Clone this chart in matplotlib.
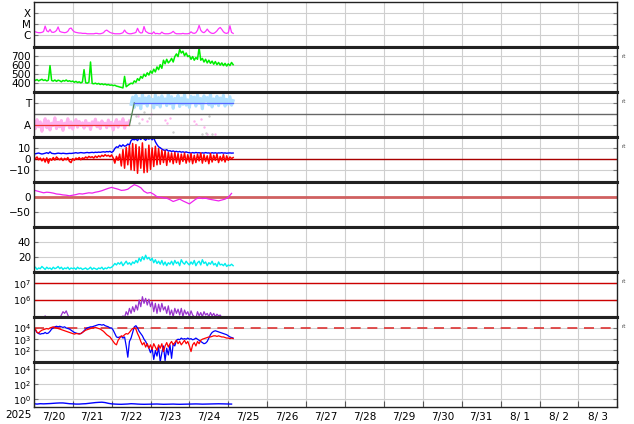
import numpy as np
import matplotlib
matplotlib.use("Agg")
import matplotlib.pyplot as plt

# ---------------- data (hours since 2025-07-20 00:00) ----------------
date_labels = ["7/20", "7/21", "7/22", "7/23", "7/24", "7/25", "7/26", "7/27",
               "7/28", "7/29", "7/30", "7/31", "8/ 1", "8/ 2", "8/ 3"]
year_label = "2025"

# GOES X-ray flux, units of 1e-6 W/m^2, hourly
xray_c = [2.0, 1.8, 1.6, 1.5, 1.5, 1.6, 1.9, 6.0, 2.2, 1.8, 3.0, 1.7, 1.6, 1.8, 2.4, 5.0, 2.0, 1.7, 1.6, 1.5, 1.6, 2.0, 3.5, 4.0,
          2.5, 1.8, 1.6, 1.5, 1.4, 1.4, 1.3, 1.3, 1.3, 1.2, 1.2, 1.2, 1.2, 1.2, 1.3, 1.3, 1.2, 1.2, 1.3, 1.5, 2.2, 2.6, 2.0, 1.6,
          1.4, 1.3, 1.2, 1.2, 1.2, 1.2, 1.3, 1.5, 2.6, 1.6, 1.3, 1.2, 1.2, 1.3, 1.4, 1.6, 3.8, 1.8, 1.4, 1.5, 5.5, 2.0, 1.6, 1.3,
          1.3, 1.2, 1.8, 1.2, 1.3, 1.2, 1.2, 1.7, 1.3, 1.2, 1.2, 1.2, 1.3, 1.5, 2.0, 1.4, 1.2, 1.2, 1.2, 1.2, 1.3, 1.2, 1.2, 1.2,
          1.3, 1.8, 1.4, 1.3, 1.5, 2.5, 7.0, 2.5, 1.7, 1.5, 2.0, 3.2, 2.0, 1.5, 1.3, 1.3, 1.6, 2.2, 3.5, 4.5, 3.0, 1.8, 1.4, 1.3,
          1.5, 6.5, 1.6, 1.3]

# Solar wind speed km/s, hourly
speed = [440, 425, 435, 420, 430, 438, 425, 432, 420, 428, 590, 425, 418, 430, 415, 428, 422, 410, 425, 418, 430, 415, 422, 412,
         418, 405, 415, 402, 410, 398, 408, 545, 400, 395, 405, 630, 392, 388, 395, 385, 392, 380, 388, 378, 385, 375, 380, 372,
         375, 368, 372, 362, 358, 352, 348, 342, 470, 355, 370, 382, 395, 388, 420, 405, 445, 425, 470, 450, 495, 470, 510, 485,
         530, 505, 550, 520, 575, 545, 600, 560, 650, 610, 660, 620, 640, 670, 630, 690, 720, 690, 770, 730, 750, 700, 730, 690,
         700, 660, 690, 650, 680, 660, 790, 650, 670, 630, 660, 620, 650, 615, 640, 605, 635, 600, 625, 595, 620, 590, 615, 585,
         610, 590, 625, 600]

# IMF sector (0.25 = Away, 0.75 = Toward), hourly
away_pts = [0.30, 0.18, 0.38, 0.22, 0.33, 0.12, 0.28, 0.40, 0.20, 0.35, 0.15, 0.30, 0.25, 0.42, 0.18, 0.32, 0.22, 0.36, 0.14, 0.30, 0.26, 0.40, 0.20, 0.33,
            0.17, 0.29, 0.38, 0.21, 0.34, 0.25, 0.31, 0.19, 0.36, 0.24, 0.30, 0.16, 0.33, 0.27, 0.39, 0.22, 0.31, 0.18, 0.35, 0.26, 0.30, 0.20, 0.37, 0.24,
            0.32, 0.15, 0.29, 0.38, 0.21, 0.33, 0.26, 0.40, 0.19, 0.31, 0.28, 0.35]
toward_start = 60
toward_pts = [0.72, 0.88, 0.65, 0.92, 0.70, 0.85, 0.62, 0.95, 0.74, 0.86, 0.68, 0.90, 0.77, 0.83, 0.64, 0.93, 0.71, 0.87, 0.66, 0.91, 0.75, 0.84, 0.69, 0.96,
              0.73, 0.89, 0.63, 0.85, 0.78, 0.92, 0.67, 0.86, 0.72, 0.94, 0.70, 0.82, 0.65, 0.90, 0.76, 0.88, 0.68, 0.93, 0.74, 0.85, 0.62, 0.91, 0.79, 0.87,
              0.71, 0.95, 0.66, 0.84, 0.73, 0.90, 0.69, 0.86, 0.75, 0.92, 0.68, 0.83, 0.72, 0.89, 0.70, 0.80]
stray_away_h = [64, 67, 70, 72, 81, 82, 84, 99, 100, 103, 105, 107, 112]
stray_away_v = [0.45, 0.40, 0.35, 0.50, 0.38, 0.30, 0.42, 0.35, 0.28, 0.40, 0.22, 0.05, 0.05]
stray_gray_h = [60, 63, 65, 68, 71, 86, 104, 106, 108, 110]
stray_gray_v = [0.50, 0.45, 0.30, 0.55, 0.42, 0.10, 0.05, 0.08, 0.45, 0.06]
sector_switch_h = [59, 62]
sector_end_h = 123

# IMF Bt and Bz (nT), hourly
bt = [5.0, 4.8, 5.2, 5.5, 5.0, 4.6, 4.9, 5.3, 5.8, 5.1, 6.5, 5.2, 5.0, 4.8, 5.1, 5.4, 5.2, 5.0, 5.3, 5.1, 4.9, 5.0, 5.2, 5.1,
      5.3, 5.5, 5.8, 5.4, 5.6, 5.9, 5.7, 5.5, 5.8, 6.0, 5.7, 5.9, 6.1, 5.8, 6.2, 6.0, 6.3, 6.1, 6.4, 6.6, 6.3, 6.8, 6.5, 7.0,
      6.0, 7.0, 9.5, 11.0, 10.5, 12.5, 11.2, 12.8, 11.5, 12.0, 13.5, 12.5, 16.5, 17.8, 17.2, 18.0, 16.5, 18.8, 17.5, 19.2, 18.0, 16.8, 18.5, 17.8,
      18.8, 17.2, 19.0, 15.5, 13.0, 11.0, 10.2, 9.0, 8.2, 7.8, 8.5, 7.2, 7.6, 6.8, 7.4, 6.6, 7.0, 6.4, 6.9, 6.2, 6.6, 6.0, 6.5, 5.9,
      5.8, 5.4, 5.9, 5.5, 6.0, 5.6, 5.8, 5.3, 5.7, 5.4, 5.9, 5.5, 5.6, 5.2, 5.8, 5.4, 5.7, 5.3, 5.6, 5.5, 5.8, 5.4, 5.6, 5.3,
      5.5, 5.6, 5.4, 5.5]
bz = [1.5, 0.5, 2.0, -0.5, 1.0, -1.5, 0.8, -2.5, 1.2, -3.5, 0.5, -1.0, 1.5, -0.8, 2.0, 0.5, -0.5, 1.0, -1.2, 0.8, -0.5, 1.5, -2.0, -3.0,
      0.5, -1.0, 1.0, 0.0, 1.5, -0.5, 1.2, 0.5, 2.0, 1.0, 2.5, 1.5, 2.2, 1.0, 2.8, 1.5, 3.0, 2.0, 3.5, 2.5, 4.0, 2.8, 3.5, 2.2,
      3.8, 1.0, -3.5, 2.5, -1.0, 4.5, -6.0, 8.5, -8.0, 10.5, -5.0, 12.0, -9.5, 14.0, -10.0, 13.0, -12.5, 11.0, -8.0, 14.5, -12.0, 9.0, -11.5, 12.5,
      -9.0, 10.0, -6.5, 11.5, -5.0, 9.5, -4.5, 8.0, -3.0, 7.5, -5.5, 6.0, -2.5, 5.5, -4.0, 6.0, -3.0, 5.0, -4.5, 4.5, -2.0, 5.5, -3.5, 4.0,
      -2.5, 5.0, -4.0, 3.5, -3.0, 4.5, -1.5, 5.5, -3.5, 4.0, -2.0, 3.0, -4.0, 5.0, -2.5, 3.5, -1.0, 4.5, -3.0, 2.5, -1.5, 4.0, -2.5, 3.0,
      -1.0, 2.0, 0.5, 1.5]

# Dst (nT), every 2 hours
dst = [22, 19, 16, 13, 15, 14, 12, 9, 8, 6, 5, 3, 5, 7, 10, 9, 11, 13, 12, 15, 17, 20, 24, 28,
       31, 28, 25, 21, 22, 25, 33, 40, 36, 30, 18, 12, 14, 8, 0, -2, -4, -5, -10, -16, -12, -8,
       -14, -19, -24, -16, -8, -3, -6, -5, -8, -10, -12, -14, -11, -8, -2, 11]

# Solar wind density, hourly
density = [4, 6, 3, 5, 4, 7, 5, 3, 6, 4, 5, 3, 6, 4, 5, 7, 4, 6, 3, 5, 4, 6, 3, 5,
           4, 5, 3, 6, 4, 5, 3, 4, 5, 3, 4, 6, 3, 5, 4, 3, 5, 4, 6, 3, 5, 4, 6, 5,
           6, 8, 11, 9, 12, 10, 13, 8, 11, 14, 10, 12, 9, 13, 11, 15, 12, 18, 14, 20, 16, 22, 17, 19,
           15, 18, 12, 16, 11, 14, 10, 15, 9, 13, 8, 12, 10, 14, 9, 15, 11, 13, 8, 16, 12, 10, 14, 11,
           9, 13, 10, 15, 8, 12, 14, 9, 16, 11, 13, 8, 12, 10, 14, 9, 11, 7, 13, 9, 10, 8, 11, 7,
           9, 8, 10, 8]

# Proton flux, log10, hourly
proton_log = [4.6, 4.7, 4.6, 4.8, 4.7, 4.9, 4.9, 5.05, 4.9, 4.8, 4.7, 4.8, 4.7, 4.6, 4.8, 4.7, 4.9, 5.1, 5.3, 5.2, 5.35, 5.1, 4.9, 4.8,
              4.7, 4.6, 4.5, 4.6, 4.5, 4.4, 4.5, 4.4, 4.5, 4.4, 4.3, 4.4, 4.3, 4.4, 4.3, 4.4, 4.5, 4.4, 4.5, 4.6, 4.5, 4.6, 4.7, 4.6,
              4.7, 4.8, 4.7, 4.8, 4.9, 4.8, 4.9, 5.05, 4.95, 5.3, 5.1, 5.5, 5.2, 5.6, 5.3, 5.7, 5.4, 6.0, 5.6, 6.2, 5.8, 6.1, 5.7, 6.05,
              5.6, 5.9, 5.3, 5.8, 5.2, 5.75, 5.3, 5.8, 5.4, 5.6, 5.2, 5.65, 5.1, 5.4, 5.0, 5.5, 5.2, 5.45, 5.1, 5.5, 5.0, 5.4, 5.15, 5.3,
              5.0, 5.35, 5.1, 5.0, 4.9, 5.3, 5.05, 5.25, 5.0, 5.3, 5.1, 5.2, 5.0, 5.25, 5.05, 5.2, 5.0, 5.15, 5.05, 5.1, 4.95, 5.0, 4.9, 4.8]

# Electron flux, log10, hourly (two channels)
elec_blue_log = [4.0, 3.8, 3.6, 3.5, 3.45, 3.5, 3.5, 3.6, 3.5, 3.55, 3.7, 3.9, 4.0, 4.1, 4.15, 4.1, 4.15, 4.1, 4.05, 4.1, 4.0, 3.95, 3.9, 3.8,
                 3.7, 3.6, 3.55, 3.5, 3.5, 3.5, 3.6, 3.75, 3.9, 4.0, 4.05, 4.1, 4.1, 4.15, 4.2, 4.25, 4.3, 4.3, 4.25, 4.3, 4.2, 4.15, 4.1, 4.0,
                 4.0, 3.8, 3.5, 3.2, 3.15, 3.2, 3.25, 3.1, 3.2, 2.4, 1.4, 2.8, 3.1, 3.6, 4.1, 4.2, 4.0, 3.7, 3.5, 3.3, 3.0, 2.8, 2.5, 2.2,
                 1.8, 2.2, 1.2, 2.0, 1.5, 2.3, 1.0, 1.8, 2.4, 1.1, 2.2, 1.6, 2.5, 1.3, 2.6, 2.4, 2.9, 3.0, 2.95, 3.1, 3.0, 3.05, 3.0, 3.1,
                 3.0, 3.05, 2.95, 3.0, 3.1, 3.0, 2.9, 2.8, 2.7, 2.6, 2.65, 2.8, 3.1, 3.4, 3.6, 3.7, 3.75, 3.7, 3.65, 3.6, 3.55, 3.5, 3.45, 3.4,
                 3.3, 3.2, 3.15, 3.1]
elec_red_log = [4.0, 3.9, 3.6, 3.55, 3.7, 3.8, 3.85, 3.9, 3.95, 3.9, 4.0, 4.05, 4.1, 4.05, 4.0, 3.95, 3.9, 3.85, 3.8, 3.75, 3.7, 3.65, 3.6, 3.55,
                3.5, 3.45, 3.5, 3.5, 3.45, 3.5, 3.6, 3.7, 3.8, 3.85, 3.9, 3.95, 4.0, 4.0, 4.05, 4.0, 3.95, 3.9, 3.8, 3.7, 3.55, 3.4, 3.3, 3.2,
                3.0, 2.8, 2.6, 2.5, 2.9, 3.1, 3.3, 3.25, 3.4, 3.5, 3.45, 3.6, 3.8, 3.95, 4.0, 3.9, 3.5, 3.2, 2.8, 2.5, 2.7, 2.3, 2.6, 2.2,
                2.5, 2.1, 2.6, 2.3, 2.0, 2.5, 2.2, 2.6, 1.9, 2.4, 2.7, 2.3, 2.6, 2.8, 2.5, 2.7, 2.9, 2.6, 2.8, 2.5, 2.7, 2.9, 2.6, 2.8,
                2.4, 1.9, 2.5, 2.7, 2.4, 2.8, 2.6, 2.9, 3.0, 3.05, 3.1, 3.15, 3.2, 3.2, 3.25, 3.3, 3.3, 3.25, 3.3, 3.25, 3.2, 3.2, 3.15, 3.1,
                3.1, 3.05, 3.1, 3.05]

# Bottom panel flux, log10, every 2 hours
low_flux_log = [-0.6, -0.65, -0.6, -0.62, -0.6, -0.58, -0.55, -0.52, -0.5, -0.5, -0.55, -0.6, -0.62, -0.65, -0.65, -0.62,
                -0.6, -0.55, -0.5, -0.45, -0.42, -0.4, -0.45, -0.55, -0.62, -0.65, -0.67, -0.68, -0.66, -0.64, -0.6, -0.62,
                -0.65, -0.67, -0.68, -0.67, -0.66, -0.65, -0.64, -0.66, -0.68, -0.67, -0.66, -0.65, -0.67, -0.68, -0.67, -0.66,
                -0.65, -0.64, -0.63, -0.64, -0.66, -0.65, -0.64, -0.63, -0.62, -0.61, -0.62, -0.63, -0.64, -0.65]


def hours(vals, step=1.0, start=0.0):
    return start + np.arange(len(vals)) * step


# ---------------- layout ----------------
W, H = 634, 424
fig = plt.figure(figsize=(W / 100, H / 100), dpi=100)
left = 33.8 / W
width = (617.3 - 33.8) / W
ph = 45.0
top0 = 1.7
FS = 7.5
FS_LOG = 6.8
GRID = "#cfcfcf"

axes = []
for i in range(9):
    top = top0 + ph * i
    ax = fig.add_axes([left, 1 - (top + ph) / H, width, ph / H])
    axes.append(ax)

for i, ax in enumerate(axes):
    ax.set_xlim(0, 360)
    ax.set_xticks(np.arange(0, 361, 24))
    ax.grid(True, which="major", color=GRID, lw=0.8)
    ax.set_axisbelow(True)
    for s in ("left", "right"):
        ax.spines[s].set_linewidth(1.0)
        ax.spines[s].set_color("#222222")
    ax.spines["top"].set_linewidth(1.0 if i == 0 else 2.2)
    ax.spines["bottom"].set_linewidth(1.0 if i == 8 else 2.2)
    ax.spines["top"].set_color("#222222")
    ax.spines["bottom"].set_color("#222222")
    ax.tick_params(axis="y", which="major", direction="in", length=3, left=True, right=True,
                   labelsize=FS, pad=2, color="#777777", labelcolor="black")
    ax.tick_params(axis="y", which="minor", left=False, right=False)
    if i < 8:
        ax.tick_params(axis="x", which="both", bottom=False, top=False, labelbottom=False)

# Panel 1: X-ray
ax = axes[0]
ax.set_yscale("log")
ax.plot(hours(xray_c), np.array(xray_c) * 1e-6, color="#ff33ff", lw=0.9)
ax.set_ylim(10 ** -7.1, 10 ** -3.0)
ax.set_yticks([1e-4, 1e-5, 1e-6])
ax.set_yticklabels(["X", "M", "C"])
ax.yaxis.set_minor_locator(matplotlib.ticker.NullLocator())

# Panel 2: speed
ax = axes[1]
ax.plot(hours(speed), speed, color="#00ee00", lw=1.1)
ax.set_ylim(300, 800)
ax.set_yticks([400, 500, 600, 700])

# Panel 3: sector
ax = axes[2]
ax.set_ylim(0, 1)
ax.set_yticks([0.25, 0.75])
ax.set_yticklabels(["A", "T"])
ax.axhline(0.5, color="#666666", lw=1.0)
ax.plot(hours(away_pts), away_pts, color="#ffb0ee", lw=2.2)
ax.plot(hours(toward_pts, start=toward_start), toward_pts, color="#b0e0ff", lw=2.2)
ax.scatter(stray_away_h, stray_away_v, s=3, color="#ffb0ee", lw=0)
ax.scatter(stray_gray_h, stray_gray_v, s=3, color="#cccccc", lw=0)
ax.plot([0, sector_switch_h[0]], [0.25, 0.25], color="#ee3333", lw=0.9)
ax.plot(sector_switch_h, [0.25, 0.75], color="#558855", lw=0.9)
ax.plot([sector_switch_h[1], sector_end_h], [0.75, 0.75], color="#5566ff", lw=0.9)

# Panel 4: IMF
ax = axes[3]
ax.set_ylim(-20, 20)
ax.set_yticks([-10, 0, 10])
ax.set_yticklabels(["\u221210", "0", "10"])
ax.axhline(0, color="#aa0000", lw=1.0)
ax.plot(hours(bt), bt, color="#0000ff", lw=1.0)
ax.plot(hours(bz), bz, color="#ff0000", lw=1.1)

# Panel 5: Dst
ax = axes[4]
ax.set_ylim(-100, 50)
ax.set_yticks([-50, 0])
ax.set_yticklabels(["\u221250", "0"])
ax.axhline(0, color="#d06060", lw=2.0)
ax.plot(hours(dst, 2.0), dst, color="#ee22ee", lw=0.9)

# Panel 6: density
ax = axes[5]
ax.set_ylim(0, 60)
ax.set_yticks([20, 40])
ax.plot(hours(density), density, color="#00eeee", lw=1.0)

# Panel 7: protons
ax = axes[6]
ax.set_yscale("log")
ax.set_ylim(1e5, 10 ** 7.7)
ax.set_yticks([1e6, 1e7])
ax.yaxis.set_minor_locator(matplotlib.ticker.NullLocator())
ax.axhline(1e6, color="#cc0000", lw=1.0)
ax.axhline(1e7, color="#cc0000", lw=1.0)
ax.plot(hours(proton_log), 10 ** np.array(proton_log), color="#9933cc", lw=0.9)

# Panel 8: electrons
ax = axes[7]
ax.set_yscale("log")
ax.set_ylim(1e1, 1e5)
ax.set_yticks([1e2, 1e3, 1e4])
ax.yaxis.set_minor_locator(matplotlib.ticker.NullLocator())
ax.axhline(1e4, color="#dd3333", lw=1.2, dashes=(6, 4))
ax.plot(hours(elec_blue_log), 10 ** np.array(elec_blue_log), color="#0000ff", lw=0.9)
ax.plot(hours(elec_red_log), 10 ** np.array(elec_red_log), color="#ff0000", lw=0.9)

# Panel 9
ax = axes[8]
ax.set_yscale("log")
ax.set_ylim(1e-1, 1e5)
ax.set_yticks([1e0, 1e2, 1e4])
ax.yaxis.set_minor_locator(matplotlib.ticker.NullLocator())
ax.plot(hours(low_flux_log, 2.0), 10 ** np.array(low_flux_log), color="#0000ff", lw=1.0)
ax.tick_params(axis="x", which="major", direction="in", length=4, bottom=True, top=False,
               labelbottom=False, color="#555555")
ax.set_xticks(np.arange(12, 360, 24), minor=True)
ax.set_xticklabels(date_labels, minor=True)
ax.tick_params(axis="x", which="minor", length=0, labelsize=FS, pad=4)

for ax in (axes[6], axes[7], axes[8]):
    ax.tick_params(axis="y", which="major", labelsize=FS_LOG)

fig.text(18 / W, 1 - 415 / H, year_label, ha="center", va="center", fontsize=FS)

for i in (1, 2, 3, 6, 7):
    y = top0 + ph * i + 10
    fig.text(622 / W, 1 - y / H, "rt", fontsize=4, color="#444444", ha="left", va="center")

fig.savefig("out.png", dpi=100)
